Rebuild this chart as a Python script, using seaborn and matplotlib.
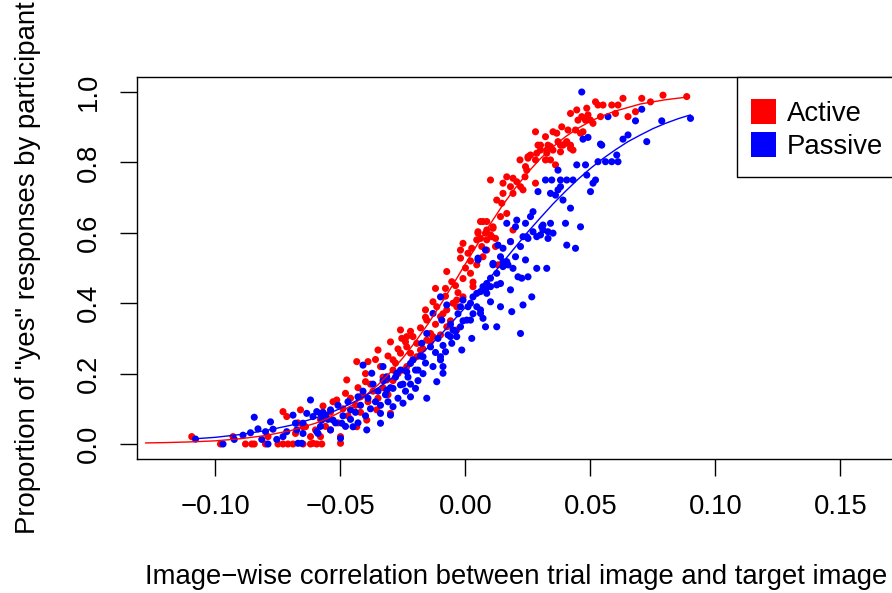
import matplotlib
matplotlib.use('Agg')
import pandas as pd
import matplotlib.pyplot as plt
import seaborn as sns
from matplotlib.lines import Line2D
from matplotlib.patches import Rectangle

# values: (correlation, proportion "yes")
active_pts = [
    (-0.1095, 0.021), (-0.098, 0.000), (-0.093, 0.021), (-0.088, 0.000), (-0.0855, 0.000),
    (-0.0845, 0.000), (-0.080, 0.000), (-0.079, 0.021), (-0.075, 0.000), (-0.073, 0.000),
    (-0.071, 0.000), (-0.069, 0.000), (-0.073, 0.092), (-0.0715, 0.078), (-0.068, 0.030),
    (-0.067, 0.060), (-0.066, 0.097), (-0.065, 0.000), (-0.065, 0.049), (-0.064, 0.049),
    (-0.062, 0.000), (-0.062, 0.021), (-0.061, 0.002), (-0.060, 0.040), (-0.0595, 0.000),
    (-0.058, 0.021), (-0.058, 0.070), (-0.0575, 0.000), (-0.057, 0.108), (-0.056, 0.050),
    (-0.054, 0.040), (-0.054, 0.090), (-0.053, 0.120), (-0.0515, 0.125), (-0.051, 0.060),
    (-0.050, 0.002), (-0.050, 0.021), (-0.049, 0.100), (-0.048, 0.144), (-0.0475, 0.182),
    (-0.047, 0.080), (-0.046, 0.130), (-0.044, 0.110), (-0.0435, 0.049), (-0.0435, 0.234),
    (-0.043, 0.160), (-0.042, 0.134), (-0.042, 0.090), (-0.041, 0.140), (-0.040, 0.177),
    (-0.040, 0.200), (-0.0395, 0.068), (-0.039, 0.234), (-0.039, 0.120), (-0.038, 0.170),
    (-0.037, 0.150), (-0.036, 0.240), (-0.0355, 0.097), (-0.035, 0.267), (-0.035, 0.130),
    (-0.034, 0.220), (-0.033, 0.190), (-0.033, 0.160), (-0.0315, 0.182), (-0.031, 0.250),
    (-0.031, 0.140), (-0.030, 0.087), (-0.030, 0.290), (-0.029, 0.210), (-0.029, 0.239),
    (-0.029, 0.180), (-0.028, 0.230), (-0.027, 0.270), (-0.027, 0.200), (-0.026, 0.324),
    (-0.026, 0.258), (-0.0255, 0.300), (-0.025, 0.210), (-0.024, 0.290), (-0.0235, 0.305),
    (-0.0235, 0.220), (-0.0235, 0.276), (-0.022, 0.320), (-0.022, 0.258), (-0.021, 0.305),
    (-0.021, 0.239), (-0.0195, 0.248), (-0.0195, 0.286), (-0.018, 0.267), (-0.018, 0.330),
    (-0.017, 0.270), (-0.016, 0.381), (-0.016, 0.360), (-0.0155, 0.352), (-0.0155, 0.295),
    (-0.014, 0.314), (-0.014, 0.290), (-0.013, 0.305), (-0.013, 0.404), (-0.012, 0.442),
    (-0.012, 0.340), (-0.0115, 0.390), (-0.010, 0.362), (-0.010, 0.310), (-0.009, 0.370),
    (-0.008, 0.442), (-0.008, 0.420), (-0.0075, 0.490), (-0.0075, 0.381), (-0.0075, 0.333),
    (-0.006, 0.350), (-0.0055, 0.461), (-0.005, 0.400), (-0.004, 0.450), (-0.0035, 0.409),
    (-0.0035, 0.390), (-0.0035, 0.324), (-0.003, 0.430), (-0.002, 0.528), (-0.002, 0.551),
    (-0.001, 0.570), (-0.001, 0.418), (-0.001, 0.470), (0.000, 0.500), (0.001, 0.542),
    (0.002, 0.485), (0.002, 0.520), (0.0025, 0.556), (0.003, 0.447), (0.003, 0.460),
    (0.0045, 0.509), (0.0045, 0.580), (0.005, 0.599), (0.005, 0.603), (0.006, 0.584),
    (0.006, 0.632), (0.0065, 0.561), (0.007, 0.532), (0.007, 0.632), (0.008, 0.599),
    (0.0085, 0.608), (0.0085, 0.551), (0.0085, 0.632), (0.0085, 0.580), (0.010, 0.594),
    (0.010, 0.750), (0.0105, 0.589), (0.011, 0.613), (0.011, 0.617), (0.012, 0.561),
    (0.012, 0.584), (0.0125, 0.693), (0.013, 0.509), (0.014, 0.646), (0.0145, 0.684),
    (0.015, 0.741), (0.015, 0.712), (0.0165, 0.759), (0.0165, 0.655), (0.018, 0.731),
    (0.018, 0.575), (0.019, 0.755), (0.019, 0.712), (0.019, 0.608), (0.0205, 0.745),
    (0.0218, 0.807), (0.022, 0.731), (0.023, 0.722), (0.0238, 0.759), (0.024, 0.788),
    (0.0245, 0.778), (0.025, 0.812), (0.025, 0.816), (0.026, 0.821), (0.028, 0.741),
    (0.028, 0.807), (0.028, 0.887), (0.0285, 0.826), (0.029, 0.849), (0.030, 0.835),
    (0.030, 0.849), (0.032, 0.873), (0.032, 0.807), (0.0325, 0.826), (0.0325, 0.835),
    (0.033, 0.849), (0.034, 0.807), (0.034, 0.845), (0.035, 0.887), (0.035, 0.835),
    (0.036, 0.793), (0.0365, 0.883), (0.037, 0.859), (0.038, 0.830), (0.038, 0.849),
    (0.0385, 0.901), (0.039, 0.849), (0.040, 0.854), (0.0405, 0.859), (0.041, 0.892),
    (0.042, 0.849), (0.042, 0.939), (0.042, 0.840), (0.043, 0.835), (0.044, 0.892),
    (0.0445, 0.949), (0.045, 0.920), (0.046, 0.883), (0.0465, 0.930), (0.047, 0.887),
    (0.048, 0.920), (0.0485, 0.954), (0.049, 0.935), (0.050, 0.920), (0.051, 0.911),
    (0.052, 0.972), (0.053, 0.963), (0.054, 0.930), (0.055, 0.963), (0.0585, 0.963),
    (0.060, 0.939), (0.061, 0.963), (0.063, 0.982), (0.065, 0.930), (0.068, 0.944),
    (0.0705, 0.982), (0.074, 0.972), (0.079, 0.991), (0.0885, 0.987),
]

passive_pts = [
    (-0.108, 0.014), (-0.097, 0.000), (-0.0925, 0.013), (-0.089, 0.025), (-0.086, 0.032),
    (-0.0845, 0.076), (-0.083, 0.043), (-0.0815, 0.013), (-0.080, 0.035), (-0.079, 0.000),
    (-0.078, 0.063), (-0.077, 0.042), (-0.0755, 0.013), (-0.073, 0.021), (-0.0715, 0.035),
    (-0.069, 0.082), (-0.068, 0.059), (-0.0675, 0.040), (-0.067, 0.002), (-0.0655, 0.002),
    (-0.065, 0.030), (-0.065, 0.059), (-0.0635, 0.087), (-0.062, 0.125), (-0.061, 0.078),
    (-0.0595, 0.092), (-0.0595, 0.035), (-0.059, 0.030), (-0.058, 0.087), (-0.058, 0.050),
    (-0.0575, 0.068), (-0.057, 0.090), (-0.056, 0.082), (-0.055, 0.070), (-0.054, 0.097),
    (-0.054, 0.040), (-0.053, 0.068), (-0.052, 0.060), (-0.051, 0.110), (-0.050, 0.016),
    (-0.0495, 0.059), (-0.049, 0.080), (-0.048, 0.050), (-0.047, 0.120), (-0.046, 0.097),
    (-0.046, 0.070), (-0.045, 0.049), (-0.044, 0.090), (-0.043, 0.134), (-0.043, 0.060),
    (-0.042, 0.110), (-0.041, 0.224), (-0.041, 0.150), (-0.040, 0.080), (-0.0395, 0.040),
    (-0.039, 0.130), (-0.038, 0.100), (-0.0375, 0.201), (-0.037, 0.170), (-0.036, 0.120),
    (-0.035, 0.150), (-0.034, 0.087), (-0.034, 0.059), (-0.034, 0.110), (-0.033, 0.220),
    (-0.033, 0.180), (-0.032, 0.140), (-0.0315, 0.191), (-0.0315, 0.153), (-0.031, 0.120),
    (-0.030, 0.082), (-0.030, 0.160), (-0.029, 0.106), (-0.029, 0.158), (-0.028, 0.190),
    (-0.0275, 0.201), (-0.027, 0.130), (-0.026, 0.168), (-0.026, 0.210), (-0.025, 0.116),
    (-0.025, 0.170), (-0.024, 0.150), (-0.0235, 0.205), (-0.023, 0.190), (-0.022, 0.229),
    (-0.022, 0.134), (-0.022, 0.170), (-0.021, 0.239), (-0.020, 0.158), (-0.020, 0.210),
    (-0.019, 0.210), (-0.019, 0.180), (-0.018, 0.250), (-0.0175, 0.286), (-0.017, 0.248),
    (-0.017, 0.200), (-0.016, 0.230), (-0.0155, 0.314), (-0.0155, 0.130), (-0.014, 0.276),
    (-0.013, 0.371), (-0.013, 0.220), (-0.012, 0.260), (-0.0115, 0.177), (-0.011, 0.300),
    (-0.010, 0.248), (-0.010, 0.418), (-0.010, 0.239), (-0.0095, 0.352), (-0.009, 0.201),
    (-0.009, 0.220), (-0.009, 0.280), (-0.008, 0.262), (-0.0075, 0.395), (-0.007, 0.310),
    (-0.006, 0.305), (-0.006, 0.340), (-0.0055, 0.286), (-0.005, 0.324), (-0.004, 0.320),
    (-0.0035, 0.305), (-0.003, 0.370), (-0.002, 0.390), (-0.002, 0.333), (-0.0015, 0.267),
    (-0.001, 0.409), (-0.001, 0.350), (0.0005, 0.352), (0.001, 0.390), (0.002, 0.400),
    (0.002, 0.352), (0.0025, 0.300), (0.003, 0.418), (0.003, 0.370), (0.0045, 0.390),
    (0.0045, 0.428), (0.005, 0.523), (0.005, 0.528), (0.006, 0.371), (0.006, 0.433),
    (0.006, 0.381), (0.007, 0.447), (0.007, 0.357), (0.008, 0.333), (0.008, 0.438),
    (0.008, 0.551), (0.0085, 0.456), (0.0085, 0.428), (0.010, 0.471), (0.010, 0.447),
    (0.010, 0.404), (0.011, 0.513), (0.011, 0.509), (0.0125, 0.485), (0.0125, 0.333),
    (0.0125, 0.452), (0.013, 0.565), (0.014, 0.456), (0.014, 0.390), (0.014, 0.532),
    (0.015, 0.518), (0.015, 0.556), (0.015, 0.504), (0.0165, 0.627), (0.0165, 0.518),
    (0.017, 0.509), (0.018, 0.575), (0.018, 0.438), (0.0185, 0.376), (0.019, 0.499),
    (0.020, 0.532), (0.020, 0.617), (0.0205, 0.636), (0.021, 0.475), (0.022, 0.561),
    (0.022, 0.314), (0.0225, 0.471), (0.023, 0.395), (0.023, 0.589), (0.024, 0.523),
    (0.024, 0.627), (0.0245, 0.589), (0.025, 0.475), (0.025, 0.584), (0.026, 0.646),
    (0.0265, 0.418), (0.027, 0.660), (0.027, 0.603), (0.0285, 0.589), (0.0285, 0.499),
    (0.029, 0.717), (0.030, 0.594), (0.0305, 0.617), (0.031, 0.622), (0.031, 0.608),
    (0.032, 0.750), (0.0325, 0.499), (0.033, 0.603), (0.033, 0.584), (0.034, 0.627),
    (0.034, 0.712), (0.0345, 0.750), (0.035, 0.599), (0.036, 0.707), (0.037, 0.778),
    (0.037, 0.722), (0.038, 0.731), (0.038, 0.750), (0.039, 0.693), (0.040, 0.627),
    (0.0405, 0.750), (0.0405, 0.565), (0.042, 0.670), (0.043, 0.750), (0.044, 0.556),
    (0.0445, 0.793), (0.046, 0.617), (0.0465, 1.000), (0.047, 0.866), (0.048, 0.793),
    (0.0485, 0.764), (0.049, 0.871), (0.050, 0.717), (0.051, 0.741), (0.052, 0.750),
    (0.053, 0.802), (0.054, 0.852), (0.0545, 0.849), (0.056, 0.802), (0.057, 0.930),
    (0.0585, 0.802), (0.0605, 0.821), (0.061, 0.802), (0.063, 0.866), (0.065, 0.878),
    (0.068, 0.918), (0.0705, 0.951), (0.0725, 0.859), (0.0785, 0.918), (0.090, 0.925),
]

active_curve_x = [-0.128, -0.12, -0.11, -0.10, -0.09, -0.08, -0.07, -0.06, -0.055, -0.05,
                  -0.045, -0.04, -0.035, -0.03, -0.025, -0.02, -0.015, -0.01, -0.005, 0.0,
                  0.005, 0.01, 0.015, 0.02, 0.025, 0.03, 0.035, 0.04, 0.045, 0.05, 0.055,
                  0.06, 0.07, 0.08, 0.088]
active_curve_y = [0.003, 0.004, 0.006, 0.009, 0.015, 0.024, 0.038, 0.059, 0.073, 0.091,
                  0.112, 0.138, 0.168, 0.204, 0.245, 0.291, 0.341, 0.396, 0.453, 0.512,
                  0.570, 0.626, 0.680, 0.728, 0.772, 0.811, 0.844, 0.873, 0.897, 0.917, 0.933,
                  0.946, 0.966, 0.978, 0.985]
passive_curve_x = [-0.108, -0.10, -0.09, -0.08, -0.07, -0.06, -0.055, -0.05, -0.045, -0.04,
                   -0.035, -0.03, -0.025, -0.02, -0.015, -0.01, -0.005, 0.0, 0.005, 0.01,
                   0.015, 0.02, 0.025, 0.03, 0.035, 0.04, 0.045, 0.05, 0.055, 0.06, 0.065,
                   0.07, 0.075, 0.08, 0.085, 0.09]
passive_curve_y = [0.015, 0.019, 0.027, 0.038, 0.053, 0.074, 0.086, 0.101, 0.118, 0.137,
                   0.159, 0.184, 0.211, 0.241, 0.274, 0.310, 0.349, 0.389, 0.431, 0.474,
                   0.517, 0.560, 0.603, 0.643, 0.682, 0.718, 0.752, 0.783, 0.811, 0.836, 0.859,
                   0.878, 0.896, 0.911, 0.924, 0.935]

groups = ['Active', 'Passive']
colors = {'Active': '#FF0000', 'Passive': '#0000FF'}
x_ticks = [-0.10, -0.05, 0.00, 0.05, 0.10, 0.15]
y_ticks = [0.0, 0.2, 0.4, 0.6, 0.8, 1.0]

pts = pd.concat([
    pd.DataFrame(active_pts, columns=['r', 'p']).assign(group='Active'),
    pd.DataFrame(passive_pts, columns=['r', 'p']).assign(group='Passive'),
], ignore_index=True)
curves = pd.concat([
    pd.DataFrame({'r': active_curve_x, 'p': active_curve_y, 'group': 'Active'}),
    pd.DataFrame({'r': passive_curve_x, 'p': passive_curve_y, 'group': 'Passive'}),
], ignore_index=True)

sns.set_theme(style='ticks')
plt.rcParams['font.family'] = ['Liberation Sans', 'DejaVu Sans']
plt.rcParams['text.color'] = 'black'
plt.rcParams['axes.labelcolor'] = 'black'

FS = 19.8

fig = plt.figure(figsize=(8.92, 5.93), dpi=100)
ax = fig.add_axes([137 / 892, (593 - 459) / 593, 758 / 892, 382 / 593])

sns.scatterplot(data=pts, x='r', y='p', hue='group', palette=colors, hue_order=groups,
                s=26, linewidth=0, legend=False, ax=ax, zorder=2)
sns.lineplot(data=curves, x='r', y='p', hue='group', palette=colors, hue_order=groups,
             estimator=None, sort=False, linewidth=1.0, legend=False, ax=ax, zorder=3)

ax.set_xlim(-0.1314, 0.1718)
ax.set_ylim(-0.0426, 1.0426)
ax.set_xticks(x_ticks)
ax.set_xticklabels(['{:.2f}'.format(v).replace('-', '\u2212') for v in x_ticks])
ax.set_yticks(y_ticks)
ax.set_yticklabels(['{:.1f}'.format(v) for v in y_ticks])
ax.tick_params(length=12.2, width=1.0, pad=13.0, labelsize=FS, colors='black')
for lab in ax.get_yticklabels():
    lab.set_rotation(90)
    lab.set_va('center')

for sp in ax.spines.values():
    sp.set_visible(True)
    sp.set_color('black')
    sp.set_linewidth(1.0)

ax.set_xlabel('Image\u2212wise correlation between trial image and target image',
              fontsize=FS, color='black')
ax.xaxis.label.set_va('center')
ax.xaxis.set_label_coords(0.5, (459 - 577) / 382)
ax.set_ylabel('Proportion of "yes" responses by participant', fontsize=FS, color='black')
ax.yaxis.label.set_va('center')
ax.yaxis.set_label_coords((28 - 137) / 758, 0.5)

# legend box (R style: tight horizontal padding)
ax.add_patch(Rectangle(((737 - 137) / 758, (459 - 177) / 382), 1 - (737 - 137) / 758,
                       1 - (459 - 177) / 382, transform=ax.transAxes, facecolor='white',
                       edgecolor='black', linewidth=1.0, zorder=4, clip_on=False))
handles = [Line2D([0], [0], marker='s', linestyle='none', markersize=18,
                  markerfacecolor=colors[g], markeredgewidth=0, label=g) for g in groups]
leg = ax.legend(handles=handles, loc='upper right',
                bbox_to_anchor=((903 - 137) / 758, 1 - 4 / 382),
                borderaxespad=0, fontsize=FS, frameon=False,
                handlelength=0.9, handletextpad=0.42, labelspacing=0.26, borderpad=0.72)
leg.set_zorder(5)

fig.savefig('out.png', dpi=100)
